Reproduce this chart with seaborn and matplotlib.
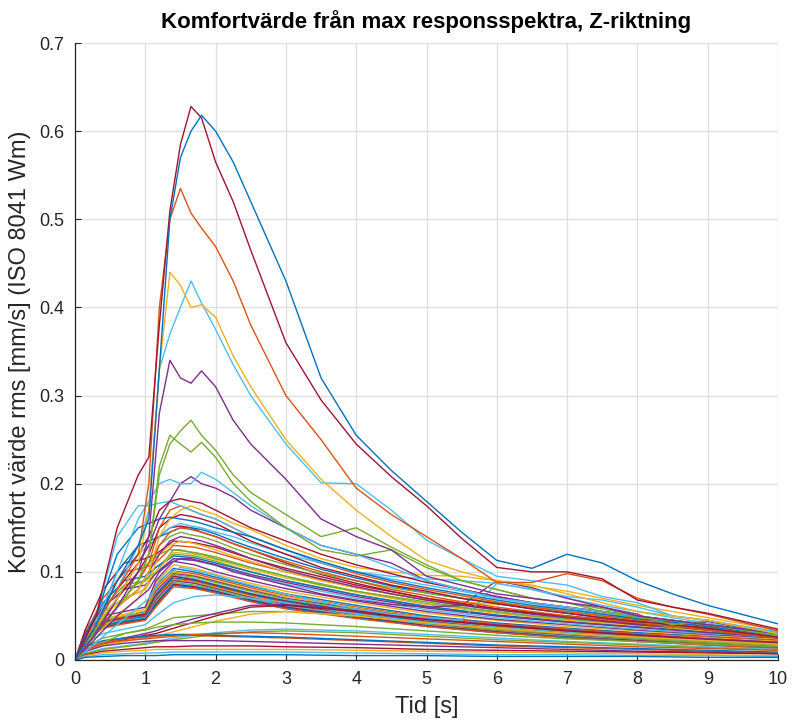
import numpy as np
import pandas as pd
import matplotlib
matplotlib.use("Agg")
import matplotlib.pyplot as plt
import seaborn as sns

# ---------------- data ----------------
TIME_MAIN = [0, 0.3, 0.6, 0.9, 1.05, 1.2, 1.35, 1.5, 1.65, 1.8, 2.0, 2.25, 2.5,
             3.0, 3.5, 4.0, 4.5, 5.0, 5.5, 6.0, 6.5, 7.0, 7.5, 8.0, 8.5, 9.0, 10.0]
TIME_BAND = [0, 0.15, 0.4, 0.7, 1.0, 1.15, 1.4, 1.7, 2.0, 2.5, 3.0, 4.0, 5.0,
             6.0, 7.0, 8.0, 9.0, 10.0]

# large curves (TIME_MAIN)
top_blue   = [0, 0.04, 0.09, 0.13, 0.16, 0.33, 0.50, 0.57, 0.60, 0.618, 0.60, 0.565, 0.52,
              0.43, 0.32, 0.255, 0.215, 0.18, 0.145, 0.113, 0.104, 0.120, 0.110, 0.090, 0.075, 0.062, 0.041]
top_red    = [0, 0.05, 0.15, 0.21, 0.23, 0.38, 0.51, 0.585, 0.628, 0.615, 0.565, 0.52, 0.465,
              0.36, 0.295, 0.245, 0.208, 0.175, 0.138, 0.105, 0.100, 0.100, 0.092, 0.068, 0.060, 0.053, 0.035]
orange_big = [0, 0.04, 0.08, 0.12, 0.20, 0.40, 0.50, 0.535, 0.507, 0.49, 0.469, 0.43, 0.38,
              0.30, 0.25, 0.195, 0.165, 0.140, 0.115, 0.088, 0.088, 0.098, 0.090, 0.070, 0.060, 0.052, 0.033]
yellow_big = [0, 0.04, 0.07, 0.11, 0.17, 0.33, 0.44, 0.425, 0.40, 0.403, 0.389, 0.345, 0.31,
              0.25, 0.205, 0.170, 0.140, 0.113, 0.100, 0.090, 0.085, 0.075, 0.065, 0.055, 0.050, 0.045, 0.030]
lblue_big  = [0, 0.04, 0.08, 0.13, 0.17, 0.33, 0.37, 0.40, 0.43, 0.405, 0.375, 0.335, 0.30,
              0.245, 0.201, 0.200, 0.170, 0.136, 0.115, 0.095, 0.090, 0.085, 0.072, 0.065, 0.050, 0.045, 0.030]
purple_big = [0, 0.03, 0.06, 0.10, 0.14, 0.28, 0.34, 0.32, 0.314, 0.328, 0.31, 0.272, 0.245,
              0.205, 0.160, 0.140, 0.125, 0.095, 0.085, 0.075, 0.070, 0.065, 0.060, 0.050, 0.045, 0.040, 0.030]
green_a    = [0, 0.03, 0.06, 0.09, 0.12, 0.21, 0.245, 0.26, 0.272, 0.255, 0.238, 0.21, 0.19,
              0.165, 0.140, 0.150, 0.128, 0.108, 0.090, 0.080, 0.070, 0.065, 0.058, 0.050, 0.040, 0.045, 0.030]
green_b    = [0, 0.03, 0.06, 0.09, 0.12, 0.22, 0.255, 0.245, 0.236, 0.247, 0.23, 0.20, 0.18,
              0.150, 0.125, 0.118, 0.125, 0.105, 0.090, 0.080, 0.070, 0.065, 0.055, 0.048, 0.045, 0.040, 0.028]
lblue_mid  = [0, 0.04, 0.10, 0.16, 0.18, 0.20, 0.205, 0.20, 0.20, 0.213, 0.205, 0.19, 0.175,
              0.150, 0.130, 0.120, 0.105, 0.090, 0.080, 0.070, 0.065, 0.060, 0.055, 0.050, 0.045, 0.040, 0.028]
purple_mid = [0, 0.03, 0.07, 0.11, 0.13, 0.16, 0.18, 0.20, 0.208, 0.20, 0.195, 0.185, 0.17,
              0.150, 0.130, 0.120, 0.110, 0.090, 0.080, 0.072, 0.065, 0.060, 0.055, 0.050, 0.045, 0.040, 0.030]
red_m1     = [0, 0.04, 0.09, 0.12, 0.14, 0.17, 0.18, 0.183, 0.18, 0.178, 0.17, 0.16, 0.15,
              0.135, 0.120, 0.108, 0.098, 0.088, 0.080, 0.072, 0.065, 0.060, 0.055, 0.050, 0.045, 0.040, 0.030]
blue_m1    = [0, 0.05, 0.12, 0.15, 0.155, 0.16, 0.162, 0.16, 0.158, 0.155, 0.15, 0.145, 0.14,
              0.125, 0.112, 0.100, 0.090, 0.082, 0.075, 0.068, 0.062, 0.057, 0.052, 0.047, 0.043, 0.038, 0.028]
lblue_m1   = [0, 0.05, 0.14, 0.175, 0.175, 0.178, 0.18, 0.175, 0.17, 0.165, 0.16, 0.15, 0.14,
              0.125, 0.110, 0.100, 0.092, 0.085, 0.078, 0.070, 0.064, 0.058, 0.053, 0.048, 0.044, 0.040, 0.030]
orange_m1  = [0, 0.03, 0.06, 0.09, 0.11, 0.15, 0.17, 0.175, 0.17, 0.165, 0.16, 0.15, 0.14,
              0.125, 0.110, 0.098, 0.088, 0.080, 0.073, 0.066, 0.060, 0.055, 0.050, 0.046, 0.042, 0.038, 0.028]
yellow_m1  = [0, 0.03, 0.06, 0.08, 0.10, 0.14, 0.16, 0.17, 0.175, 0.17, 0.165, 0.155, 0.148,
              0.130, 0.115, 0.105, 0.100, 0.096, 0.095, 0.090, 0.084, 0.078, 0.070, 0.062, 0.055, 0.048, 0.034]
red_m2     = [0, 0.03, 0.07, 0.10, 0.12, 0.15, 0.16, 0.165, 0.163, 0.16, 0.155, 0.145, 0.135,
              0.120, 0.105, 0.095, 0.085, 0.078, 0.070, 0.064, 0.058, 0.053, 0.048, 0.044, 0.040, 0.036, 0.026]
orange_m2  = [0, 0.03, 0.06, 0.08, 0.10, 0.13, 0.145, 0.15, 0.148, 0.145, 0.14, 0.132, 0.125,
              0.112, 0.100, 0.090, 0.080, 0.073, 0.066, 0.060, 0.055, 0.050, 0.046, 0.042, 0.038, 0.034, 0.025]
green_m1   = [0, 0.03, 0.06, 0.09, 0.11, 0.13, 0.14, 0.145, 0.142, 0.14, 0.135, 0.127, 0.12,
              0.108, 0.098, 0.090, 0.082, 0.076, 0.070, 0.065, 0.060, 0.055, 0.050, 0.046, 0.036, 0.045, 0.030]
purple_m1  = [0, 0.03, 0.06, 0.08, 0.10, 0.12, 0.135, 0.14, 0.138, 0.135, 0.13, 0.123, 0.115,
              0.102, 0.092, 0.083, 0.075, 0.068, 0.062, 0.057, 0.052, 0.048, 0.044, 0.040, 0.037, 0.044, 0.030]
blue_m2    = [0, 0.04, 0.10, 0.13, 0.135, 0.14, 0.145, 0.15, 0.15, 0.148, 0.143, 0.135, 0.128,
              0.115, 0.103, 0.093, 0.084, 0.076, 0.070, 0.064, 0.058, 0.053, 0.048, 0.044, 0.040, 0.036, 0.026]
lblue_m2   = [0, 0.04, 0.09, 0.12, 0.13, 0.14, 0.15, 0.155, 0.152, 0.15, 0.145, 0.14, 0.133,
              0.120, 0.110, 0.100, 0.095, 0.092, 0.090, 0.087, 0.080, 0.072, 0.068, 0.060, 0.050, 0.045, 0.032]
purple_late = [0, 0.025, 0.05, 0.07, 0.08, 0.10, 0.11, 0.115, 0.115, 0.112, 0.108, 0.10, 0.095,
               0.085, 0.075, 0.068, 0.063, 0.060, 0.062, 0.090, 0.082, 0.070, 0.060, 0.052, 0.037, 0.044, 0.030]
lblue_late = [0, 0.02, 0.04, 0.06, 0.07, 0.09, 0.10, 0.105, 0.103, 0.10, 0.096, 0.09, 0.085,
              0.075, 0.066, 0.058, 0.052, 0.048, 0.045, 0.087, 0.080, 0.070, 0.062, 0.055, 0.048, 0.042, 0.030]
red_m3     = [0, 0.04, 0.08, 0.11, 0.13, 0.14, 0.15, 0.152, 0.15, 0.145, 0.14, 0.132, 0.125,
              0.110, 0.097, 0.087, 0.078, 0.070, 0.064, 0.058, 0.053, 0.049, 0.045, 0.041, 0.038, 0.034, 0.025]
yellow_m2  = [0, 0.03, 0.05, 0.07, 0.09, 0.12, 0.13, 0.135, 0.133, 0.13, 0.125, 0.118, 0.112,
              0.100, 0.090, 0.082, 0.075, 0.070, 0.066, 0.063, 0.060, 0.058, 0.052, 0.046, 0.042, 0.038, 0.028]
green_m2   = [0, 0.035, 0.07, 0.10, 0.11, 0.12, 0.125, 0.125, 0.122, 0.12, 0.115, 0.11, 0.105,
              0.095, 0.085, 0.078, 0.072, 0.066, 0.060, 0.055, 0.050, 0.047, 0.044, 0.040, 0.037, 0.034, 0.025]

# dense band and lower curves (TIME_BAND)
band_01 = [0, 0.030, 0.045, 0.050, 0.055, 0.085, 0.104, 0.100, 0.094, 0.084, 0.075, 0.062, 0.050, 0.042, 0.036, 0.031, 0.027, 0.023]
band_02 = [0, 0.028, 0.043, 0.048, 0.052, 0.082, 0.101, 0.098, 0.092, 0.082, 0.073, 0.060, 0.049, 0.041, 0.035, 0.030, 0.026, 0.022]
band_03 = [0, 0.032, 0.046, 0.050, 0.056, 0.080, 0.100, 0.096, 0.090, 0.080, 0.072, 0.059, 0.048, 0.040, 0.034, 0.029, 0.025, 0.021]
band_04 = [0, 0.027, 0.042, 0.047, 0.051, 0.078, 0.098, 0.095, 0.089, 0.079, 0.070, 0.058, 0.047, 0.039, 0.033, 0.028, 0.024, 0.020]
band_05 = [0, 0.030, 0.044, 0.049, 0.053, 0.076, 0.097, 0.094, 0.088, 0.078, 0.069, 0.057, 0.046, 0.038, 0.032, 0.027, 0.023, 0.019]
band_06 = [0, 0.025, 0.040, 0.046, 0.050, 0.075, 0.096, 0.092, 0.086, 0.076, 0.068, 0.056, 0.045, 0.037, 0.031, 0.026, 0.022, 0.018]
band_07 = [0, 0.029, 0.043, 0.048, 0.052, 0.074, 0.095, 0.091, 0.085, 0.075, 0.067, 0.055, 0.044, 0.036, 0.030, 0.026, 0.022, 0.018]
band_08 = [0, 0.026, 0.041, 0.046, 0.050, 0.072, 0.093, 0.090, 0.084, 0.074, 0.066, 0.054, 0.043, 0.035, 0.030, 0.025, 0.021, 0.017]
band_09 = [0, 0.030, 0.042, 0.047, 0.049, 0.070, 0.092, 0.089, 0.083, 0.073, 0.065, 0.053, 0.042, 0.035, 0.029, 0.024, 0.020, 0.016]
band_10 = [0, 0.024, 0.039, 0.044, 0.048, 0.069, 0.091, 0.088, 0.082, 0.072, 0.064, 0.052, 0.041, 0.034, 0.028, 0.024, 0.020, 0.016]
band_11 = [0, 0.027, 0.040, 0.045, 0.049, 0.068, 0.090, 0.087, 0.081, 0.071, 0.063, 0.051, 0.041, 0.033, 0.028, 0.023, 0.019, 0.015]
band_12 = [0, 0.025, 0.038, 0.043, 0.047, 0.066, 0.088, 0.085, 0.080, 0.070, 0.062, 0.050, 0.040, 0.033, 0.027, 0.023, 0.019, 0.015]
band_13 = [0, 0.028, 0.041, 0.045, 0.048, 0.065, 0.087, 0.084, 0.079, 0.069, 0.061, 0.050, 0.040, 0.032, 0.027, 0.022, 0.018, 0.014]
band_14 = [0, 0.023, 0.037, 0.042, 0.046, 0.064, 0.086, 0.083, 0.078, 0.068, 0.060, 0.049, 0.039, 0.032, 0.026, 0.022, 0.018, 0.014]
band_15 = [0, 0.026, 0.039, 0.044, 0.047, 0.062, 0.085, 0.082, 0.077, 0.067, 0.059, 0.048, 0.038, 0.031, 0.026, 0.021, 0.017, 0.013]
band_16 = [0, 0.022, 0.036, 0.041, 0.045, 0.060, 0.083, 0.081, 0.076, 0.066, 0.058, 0.047, 0.038, 0.031, 0.025, 0.021, 0.017, 0.013]
band_17 = [0, 0.030, 0.047, 0.052, 0.058, 0.088, 0.108, 0.104, 0.097, 0.087, 0.078, 0.065, 0.053, 0.045, 0.038, 0.033, 0.028, 0.024]
band_18 = [0, 0.032, 0.050, 0.055, 0.060, 0.090, 0.112, 0.108, 0.100, 0.090, 0.081, 0.067, 0.055, 0.046, 0.040, 0.034, 0.029, 0.025]
band_19 = [0, 0.035, 0.060, 0.080, 0.090, 0.105, 0.120, 0.118, 0.112, 0.100, 0.090, 0.074, 0.060, 0.050, 0.043, 0.037, 0.032, 0.027]
band_20 = [0, 0.030, 0.055, 0.070, 0.080, 0.100, 0.115, 0.113, 0.107, 0.096, 0.086, 0.070, 0.057, 0.048, 0.041, 0.035, 0.030, 0.026]
upper_01 = [0, 0.030, 0.070, 0.100, 0.105, 0.110, 0.130, 0.128, 0.122, 0.110, 0.100, 0.082, 0.068, 0.057, 0.048, 0.041, 0.035, 0.029]
upper_02 = [0, 0.030, 0.060, 0.085, 0.090, 0.100, 0.125, 0.122, 0.117, 0.105, 0.095, 0.078, 0.064, 0.054, 0.046, 0.040, 0.034, 0.028]
upper_03 = [0, 0.035, 0.080, 0.110, 0.115, 0.120, 0.135, 0.133, 0.128, 0.115, 0.104, 0.085, 0.070, 0.058, 0.050, 0.043, 0.037, 0.031]
upper_04 = [0, 0.030, 0.065, 0.090, 0.095, 0.105, 0.118, 0.116, 0.110, 0.100, 0.090, 0.074, 0.061, 0.051, 0.044, 0.038, 0.032, 0.027]
upper_05 = [0, 0.025, 0.050, 0.070, 0.080, 0.100, 0.122, 0.120, 0.114, 0.103, 0.093, 0.077, 0.063, 0.053, 0.045, 0.039, 0.033, 0.027]
upper_06 = [0, 0.030, 0.060, 0.080, 0.085, 0.098, 0.115, 0.113, 0.108, 0.097, 0.088, 0.072, 0.059, 0.050, 0.043, 0.037, 0.031, 0.026]
low_01 = [0, 0.020, 0.030, 0.035, 0.040, 0.050, 0.065, 0.072, 0.074, 0.070, 0.065, 0.052, 0.043, 0.036, 0.030, 0.025, 0.021, 0.018]
low_02 = [0, 0.015, 0.025, 0.030, 0.035, 0.040, 0.048, 0.050, 0.052, 0.055, 0.055, 0.050, 0.042, 0.035, 0.030, 0.025, 0.021, 0.017]
low_03 = [0, 0.012, 0.020, 0.025, 0.030, 0.033, 0.040, 0.047, 0.053, 0.062, 0.063, 0.056, 0.047, 0.040, 0.034, 0.029, 0.024, 0.020]
low_04 = [0, 0.010, 0.018, 0.023, 0.028, 0.030, 0.036, 0.043, 0.050, 0.060, 0.062, 0.055, 0.046, 0.039, 0.033, 0.028, 0.023, 0.019]
low_05 = [0, 0.010, 0.017, 0.021, 0.025, 0.027, 0.032, 0.038, 0.044, 0.052, 0.055, 0.050, 0.042, 0.036, 0.030, 0.026, 0.022, 0.018]
low_06 = [0, 0.008, 0.013, 0.016, 0.019, 0.021, 0.025, 0.028, 0.031, 0.034, 0.035, 0.033, 0.029, 0.025, 0.021, 0.018, 0.015, 0.012]
low_07 = [0, 0.007, 0.012, 0.015, 0.018, 0.020, 0.023, 0.026, 0.029, 0.032, 0.033, 0.031, 0.027, 0.023, 0.020, 0.017, 0.014, 0.011]
low_08 = [0, 0.012, 0.020, 0.024, 0.026, 0.027, 0.028, 0.028, 0.027, 0.026, 0.025, 0.022, 0.019, 0.016, 0.014, 0.012, 0.010, 0.008]
low_09 = [0, 0.015, 0.022, 0.025, 0.027, 0.028, 0.029, 0.029, 0.028, 0.027, 0.026, 0.023, 0.020, 0.017, 0.015, 0.013, 0.011, 0.009]
low_10 = [0, 0.010, 0.016, 0.019, 0.021, 0.022, 0.022, 0.022, 0.022, 0.021, 0.020, 0.018, 0.016, 0.014, 0.012, 0.010, 0.009, 0.007]
low_11 = [0, 0.006, 0.010, 0.012, 0.014, 0.015, 0.015, 0.016, 0.016, 0.016, 0.015, 0.014, 0.012, 0.011, 0.010, 0.009, 0.008, 0.007]
low_12 = [0, 0.005, 0.008, 0.010, 0.011, 0.012, 0.012, 0.012, 0.012, 0.012, 0.012, 0.011, 0.010, 0.009, 0.008, 0.007, 0.006, 0.005]
low_13 = [0, 0.004, 0.006, 0.007, 0.008, 0.008, 0.009, 0.009, 0.009, 0.009, 0.009, 0.008, 0.007, 0.006, 0.006, 0.005, 0.005, 0.004]
low_14 = [0, 0.003, 0.004, 0.005, 0.005, 0.005, 0.006, 0.006, 0.006, 0.006, 0.006, 0.005, 0.005, 0.004, 0.004, 0.004, 0.003, 0.003]
low_15 = [0, 0.010, 0.020, 0.030, 0.034, 0.037, 0.040, 0.042, 0.043, 0.043, 0.042, 0.038, 0.033, 0.028, 0.024, 0.021, 0.018, 0.015]
low_16 = [0, 0.011, 0.019, 0.022, 0.024, 0.025, 0.027, 0.029, 0.030, 0.031, 0.030, 0.027, 0.024, 0.021, 0.018, 0.015, 0.013, 0.011]

TITLE = "Komfortvärde från max responsspektra, Z-riktning"
XLABEL = "Tid [s]"
YLABEL = "Komfort värde rms [mm/s] (ISO 8041 Wm)"
X_TICKS = [0, 1, 2, 3, 4, 5, 6, 7, 8, 9, 10]
Y_TICKS = [0, 0.1, 0.2, 0.3, 0.4, 0.5, 0.6, 0.7]
Y_TICK_LABELS = ["0", "0.1", "0.2", "0.3", "0.4", "0.5", "0.6", "0.7"]

# MATLAB default colour order
C = ["#0072BD", "#D95319", "#EDB120", "#7E2F8E", "#77AC30", "#4DBEEE", "#A2142F"]

# drawing order: first drawn is at the bottom
band_series = [
    ("band_01", band_01, 0), ("band_02", band_02, 1), ("band_03", band_03, 2), ("band_04", band_04, 3),
    ("band_05", band_05, 4), ("band_06", band_06, 5), ("band_07", band_07, 6), ("band_08", band_08, 0),
    ("band_09", band_09, 1), ("band_10", band_10, 2), ("band_11", band_11, 3), ("band_12", band_12, 4),
    ("band_13", band_13, 5), ("band_14", band_14, 6), ("band_15", band_15, 0), ("band_16", band_16, 1),
    ("band_17", band_17, 2), ("band_18", band_18, 3), ("band_19", band_19, 4), ("band_20", band_20, 5),
    ("upper_01", upper_01, 1), ("upper_02", upper_02, 4), ("upper_03", upper_03, 6),
    ("upper_04", upper_04, 0), ("upper_05", upper_05, 2), ("upper_06", upper_06, 3),
    ("low_01", low_01, 5), ("low_02", low_02, 4), ("low_03", low_03, 3), ("low_04", low_04, 6),
    ("low_05", low_05, 2), ("low_06", low_06, 5), ("low_07", low_07, 4), ("low_08", low_08, 1),
    ("low_09", low_09, 0), ("low_10", low_10, 3), ("low_11", low_11, 6), ("low_12", low_12, 2),
    ("low_13", low_13, 5), ("low_14", low_14, 0), ("low_15", low_15, 4), ("low_16", low_16, 1),
]
main_series = [
    ("green_m2", green_m2, 4), ("yellow_m2", yellow_m2, 2), ("red_m3", red_m3, 6),
    ("lblue_late", lblue_late, 5), ("purple_late", purple_late, 3), ("lblue_m2", lblue_m2, 5),
    ("blue_m2", blue_m2, 0), ("purple_m1", purple_m1, 3), ("green_m1", green_m1, 4),
    ("orange_m2", orange_m2, 1), ("red_m2", red_m2, 6), ("yellow_m1", yellow_m1, 2),
    ("orange_m1", orange_m1, 1), ("lblue_m1", lblue_m1, 5), ("blue_m1", blue_m1, 0),
    ("red_m1", red_m1, 6), ("purple_mid", purple_mid, 3), ("lblue_mid", lblue_mid, 5),
    ("green_b", green_b, 4), ("green_a", green_a, 4), ("purple_big", purple_big, 3),
    ("lblue_big", lblue_big, 5), ("yellow_big", yellow_big, 2), ("orange_big", orange_big, 1),
    ("top_red", top_red, 6), ("top_blue", top_blue, 0),
]

rows = []
order = []
palette = {}
for name, vals, ci in band_series:
    for t, v in zip(TIME_BAND, vals):
        rows.append((name, t, v))
    order.append(name)
    palette[name] = C[ci]
for name, vals, ci in main_series:
    for t, v in zip(TIME_MAIN, vals):
        rows.append((name, t, v))
    order.append(name)
    palette[name] = C[ci]
df = pd.DataFrame(rows, columns=["serie", "t", "v"])

# ---------------- plot ----------------
sns.set_theme(style="whitegrid")
plt.rcParams["font.family"] = ["Liberation Sans", "DejaVu Sans"]

fig = plt.figure(figsize=(7.94, 7.21), dpi=100)
ax = fig.add_axes([75 / 794, 61 / 721, 703 / 794, 617 / 721])

sns.lineplot(data=df, x="t", y="v", hue="serie", hue_order=order, palette=palette,
             estimator=None, sort=False, legend=False, linewidth=1.0, ax=ax)

ax.set_xlim(0, 10)
ax.set_ylim(0, 0.7)
ax.set_xticks(X_TICKS)
ax.set_xticklabels([str(x) for x in X_TICKS])
ax.set_yticks(Y_TICKS)
ax.set_yticklabels(Y_TICK_LABELS)

ax.grid(True, color="#dedede", linewidth=0.9)
ax.set_axisbelow(True)
for s in ["top", "right"]:
    ax.spines[s].set_visible(False)
for s in ["left", "bottom"]:
    ax.spines[s].set_visible(True)
    ax.spines[s].set_color("#262626")
    ax.spines[s].set_linewidth(0.9)
ax.set_facecolor("white")
ax.tick_params(axis="both", direction="in", length=4, width=0.8, color="#262626",
               labelsize=13, labelcolor="#262626", pad=8, left=True, bottom=True)

ax.set_xlabel(XLABEL, fontsize=17, color="#262626")
ax.set_ylabel(YLABEL, fontsize=17, color="#262626")
ax.xaxis.set_label_coords(0.5, -0.058)
ax.yaxis.set_label_coords(-0.062, 0.5)
ax.set_title(TITLE, fontsize=16, fontweight="bold", color="black", pad=11)

fig.savefig("out.png", dpi=100, facecolor="white")
